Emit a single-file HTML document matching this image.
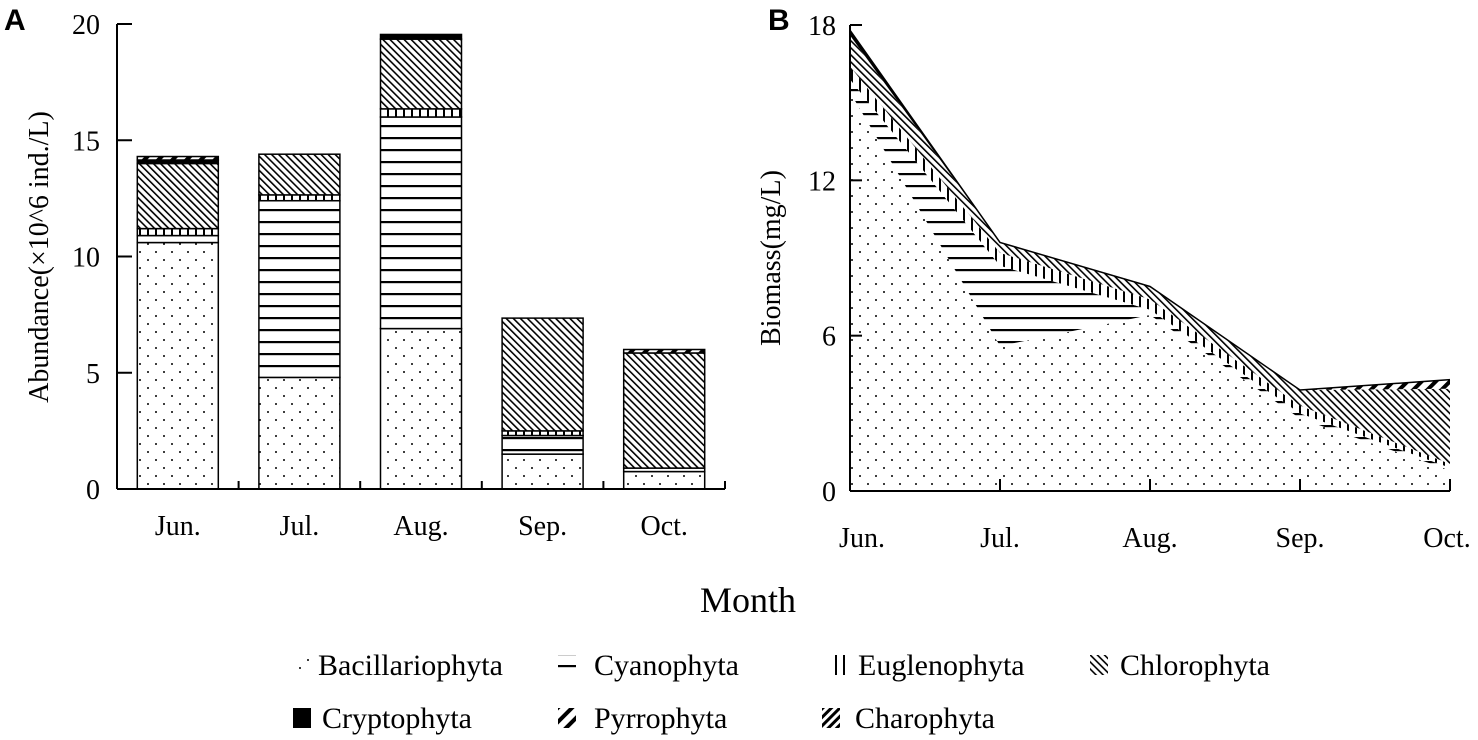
<!DOCTYPE html>
<html><head><meta charset="utf-8"><style>
html,body{margin:0;padding:0;background:#fff;}
svg{display:block;font-family:"Liberation Serif",serif;}
</style></head><body>
<svg id="chart" width="1478" height="740" viewBox="0 0 1478 740">
<defs>
<pattern id="p-bac" width="16" height="16" patternUnits="userSpaceOnUse"><rect width="16" height="16" fill="#fff"/><circle cx="4" cy="4" r="1" fill="#000"/><circle cx="12" cy="12" r="1" fill="#000"/></pattern>
<pattern id="p-cya" width="8" height="12" patternUnits="userSpaceOnUse"><rect width="8" height="12" fill="#fff"/><rect y="5" width="8" height="2.2" fill="#000"/></pattern>
<pattern id="p-eug" width="8" height="8" patternUnits="userSpaceOnUse"><rect width="8" height="8" fill="#fff"/><rect x="3" width="2" height="8" fill="#000"/></pattern>
<pattern id="p-chl" width="5" height="5" patternUnits="userSpaceOnUse" patternTransform="rotate(-45)"><rect width="5" height="5" fill="#fff"/><rect x="2" width="1.6" height="5" fill="#000"/></pattern>
<pattern id="p-cry" width="4" height="4" patternUnits="userSpaceOnUse"><rect width="4" height="4" fill="#000"/></pattern>
<pattern id="p-pyr" width="10" height="10" patternUnits="userSpaceOnUse" patternTransform="rotate(45)"><rect width="10" height="10" fill="#fff"/><rect x="3" width="4" height="10" fill="#000"/></pattern>
<pattern id="p-cha" width="6" height="6" patternUnits="userSpaceOnUse" patternTransform="rotate(45)"><rect width="6" height="6" fill="#fff"/><rect x="1" width="3" height="6" fill="#000"/></pattern>
</defs>
<g id="panelA"></g>
<g id="panelB"></g>
<text x="4" y="30" font-family="Liberation Sans,sans-serif" font-weight="bold" font-size="30">A</text>
<text x="768" y="30" font-family="Liberation Sans,sans-serif" font-weight="bold" font-size="30">B</text>
<text transform="translate(48,257) rotate(-90)" text-anchor="middle" font-size="28">Abundance(×10^6 ind./L)</text>
<text transform="translate(780,258) rotate(-90)" text-anchor="middle" font-size="28">Biomass(mg/L)</text>
<text x="748" y="612" text-anchor="middle" font-size="36">Month</text>
<g id="legend"></g>
</svg>
<script>
const months=["Jun.","Jul.","Aug.","Sep.","Oct."];
const groups=["Bacillariophyta","Cyanophyta","Euglenophyta","Chlorophyta","Cryptophyta","Pyrrophyta","Charophyta"];
const fills=["p-bac","p-cya","p-eug","p-chl","p-cry","p-pyr","p-cha"];
// Panel A abundance (x10^6 ind./L)
const aBac=[10.6,4.8,6.9,1.5,0.75];
const aCya=[0.3,7.6,9.1,0.8,0.15];
const aEug=[0.3,0.25,0.35,0.2,0];
const aChl=[2.8,1.75,3.0,4.85,4.95];
const aCry=[0.15,0,0.2,0,0];
const aPyr=[0.15,0,0,0,0.15];
const aCha=[0,0,0,0,0];
const aTicks=[0,5,10,15,20];
// Panel B biomass (mg/L)
const bBac=[15.4,5.6,6.8,2.8,0.8];
const bCya=[0.5,3.1,0.2,0.2,0.1];
const bEug=[0.5,0.5,0.4,0.3,0.15];
const bChl=[1.2,0.4,0.5,0.6,2.9];
const bCry=[0.2,0,0,0,0];
const bPyr=[0,0,0,0,0.35];
const bCha=[0,0,0,0,0];
const bTicks=[0,6,12,18];

const NS="http://www.w3.org/2000/svg";
function mk(tag,attrs,parent){const e=document.createElementNS(NS,tag);for(const k in attrs)e.setAttribute(k,attrs[k]);parent.appendChild(e);return e;}

// Panel A
const A=document.getElementById('panelA');
const ax0=117, axR=725, ay0=489, ay1=24, aMax=20;
const ya=v=>ay0-(v/aMax)*(ay0-ay1);
const slotW=121.6;
const xa=i=>ax0+slotW*(i+0.5);
const barW=81;
const aSeries=[aBac,aCya,aEug,aChl,aCry,aPyr,aCha];
months.forEach((m,i)=>{
  let cum=0;
  aSeries.forEach((s,g)=>{
    const v=s[i]; if(v<=0)return;
    const r=mk('rect',{x:xa(i)-barW/2,y:ya(cum+v),width:barW,height:ya(cum)-ya(cum+v),fill:'url(#'+fills[g]+')',stroke:'#000','stroke-width':1.5},A);
    
    
    cum+=v;
  });
  const t=mk('text',{x:xa(i),y:535,'text-anchor':'middle','font-size':28},A);
  t.textContent=m;
  
  
  mk('line',{x1:ax0+slotW*(i+1),x2:ax0+slotW*(i+1),y1:ay0,y2:ay0-8,stroke:'#000','stroke-width':2},A);
});
mk('line',{x1:ax0,x2:ax0,y1:ay1,y2:ay0,stroke:'#000','stroke-width':2},A);
mk('line',{x1:ax0,x2:axR,y1:ay0,y2:ay0,stroke:'#000','stroke-width':2},A);
aTicks.forEach(v=>{
  mk('line',{x1:ax0,x2:ax0+15,y1:ya(v),y2:ya(v),stroke:'#000','stroke-width':2},A);
  const t=mk('text',{x:100,y:ya(v)+10,'text-anchor':'end','font-size':28},A);
  t.textContent=v;
  
  
});

// Panel B
const B=document.getElementById('panelB');
const bx0=850, bxStep=150, by0=491, by1=25, bMax=18;
const yb=v=>by0-(v/bMax)*(by0-by1);
const xb=i=>bx0+bxStep*i;
const bSeries=[bBac,bCya,bEug,bChl,bCry,bPyr,bCha];
let base=[0,0,0,0,0];
bSeries.forEach((s,g)=>{
  const top=base.map((b,i)=>b+s[i]);
  if(s.every(v=>v<=0)){base=top;return;}
  let d='M'+months.map((m,i)=>xb(i)+','+yb(top[i])).join(' L');
  for(let i=months.length-1;i>=0;i--)d+=' L'+xb(i)+','+yb(base[i]);
  d+=' Z';
  const p=mk('path',{d:d,fill:'url(#'+fills[g]+')',stroke:'none'},B);
  
  
  base=top;
});
mk('path',{d:'M'+months.map((m,i)=>xb(i)+','+yb(base[i])).join(' L'),fill:'none',stroke:'#000','stroke-width':1.5},B);
mk('line',{x1:bx0,x2:bx0,y1:by1,y2:by0,stroke:'#000','stroke-width':2},B);
mk('line',{x1:bx0,x2:xb(4),y1:by0,y2:by0,stroke:'#000','stroke-width':2},B);
bTicks.forEach(v=>{
  mk('line',{x1:bx0,x2:bx0+12,y1:yb(v),y2:yb(v),stroke:'#000','stroke-width':2},B);
  const t=mk('text',{x:836,y:yb(v)+10,'text-anchor':'end','font-size':28},B);
  t.textContent=v;
  
  
});
months.forEach((m,i)=>{
  mk('line',{x1:xb(i),x2:xb(i),y1:by0,y2:by0-12,stroke:'#000','stroke-width':2},B);
  const t=mk('text',{x:xb(i)+(i==0?12:i==4?-3:0),y:547,'text-anchor':'middle','font-size':28},B);
  t.textContent=m;
  
  
});

// Legend
const L=document.getElementById('legend');
const lx=[293,558,829,1090,293,558,822];
const tx=[318,594,858,1120,322,594,855];
const ly=[675,675,675,675,728,728,728];
groups.forEach((g,k)=>{
  const sw=mk('rect',{x:lx[k],y:ly[k]-20,width:18,height:20,fill:'url(#'+fills[k]+')'},L);
  
  
  const t=mk('text',{x:tx[k],y:ly[k],'font-size':30},L);
  t.textContent=g;
  
  
});
</script>
</body></html>
